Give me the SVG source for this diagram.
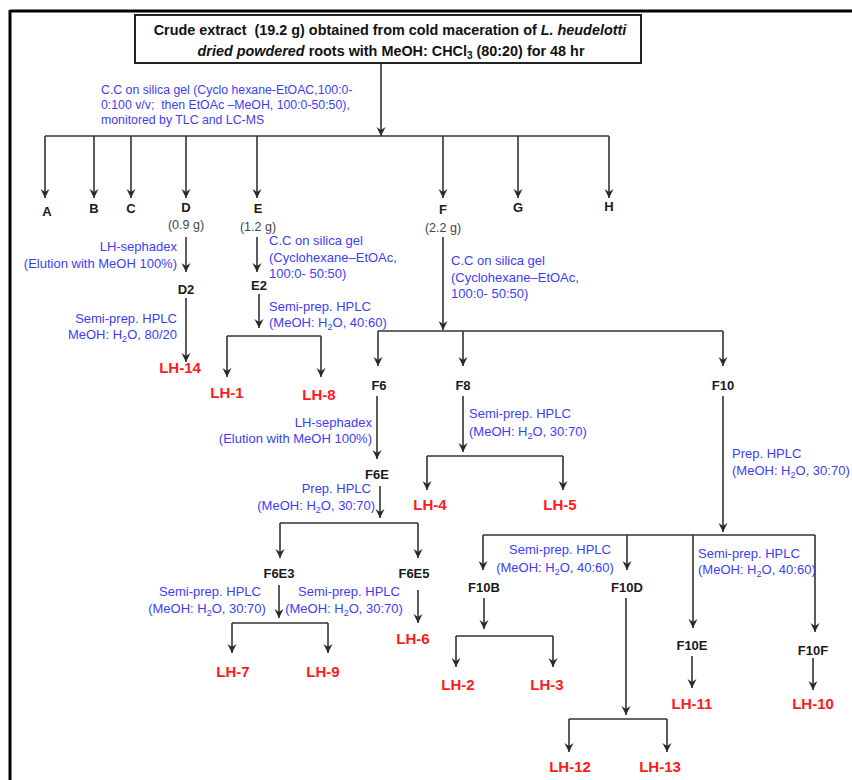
<svg xmlns="http://www.w3.org/2000/svg" width="852" height="780" viewBox="0 0 852 780">
<defs>
<marker id="ah" viewBox="-10 -6 12 12" markerWidth="12" markerHeight="12" refX="0" refY="0" orient="auto" markerUnits="userSpaceOnUse">
<path d="M0,0 L-9,-4.5 L-6,0 L-9,4.5 Z" fill="#2a2a2a"/>
</marker>
<style>
.c{fill:none;stroke:#333;stroke-width:1.6}
.a{marker-end:url(#ah)}
.bl{font-family:"Liberation Sans",Arial,sans-serif;font-size:13px;fill:#3d3df5}
.bt{font-family:"Liberation Sans",Arial,sans-serif;font-size:12.3px;fill:#3d3df5}
.k{font-family:"Liberation Sans",Arial,sans-serif;font-size:13px;font-weight:bold;fill:#1a1a1a;text-anchor:middle}
.g{font-family:"Liberation Sans",Arial,sans-serif;font-size:12.5px;fill:#444;text-anchor:middle}
.r{font-family:"Liberation Sans",Arial,sans-serif;font-size:15px;font-weight:bold;fill:#ff1a1a;text-anchor:middle}
.e{text-anchor:end}
.m{text-anchor:middle}
.t{font-family:"Liberation Sans",Arial,sans-serif;font-size:14.4px;font-weight:bold;fill:#111;text-anchor:middle}
</style>
</defs>
<rect width="852" height="780" fill="#fff"/>
<path d="M10,11 H852 M10,10 V780" stroke="#000" stroke-width="3" fill="none"/>

<g id="connectors">
<path class="c a" d="M381,63 V136"/>
<path class="c" d="M45,136 H609"/>
<path class="c a" d="M45,136 V198"/>
<path class="c a" d="M94,136 V198"/>
<path class="c a" d="M131,136 V198"/>
<path class="c a" d="M186,136 V198"/>
<path class="c a" d="M257,136 V198"/>
<path class="c a" d="M443,136 V198"/>
<path class="c a" d="M518,136 V198"/>
<path class="c a" d="M609,136 V198"/>
<path class="c a" d="M186,237 V272"/>
<path class="c a" d="M186,298 V362"/>
<path class="c a" d="M257,237 V272"/>
<path class="c a" d="M259,294 V328"/>
<path class="c" d="M227,336 H321"/>
<path class="c a" d="M227,336 V377"/>
<path class="c a" d="M321,336 V377"/>
<path class="c a" d="M443,237 V330"/>
<path class="c" d="M378,331 H723"/>
<path class="c a" d="M378,331 V366"/>
<path class="c a" d="M463,331 V366"/>
<path class="c a" d="M723,331 V366"/>
<path class="c a" d="M377,396 V459"/>
<path class="c a" d="M380,486 V518"/>
<path class="c" d="M280,523 H418"/>
<path class="c a" d="M280,523 V558"/>
<path class="c a" d="M418,523 V558"/>
<path class="c a" d="M279,585 V618"/>
<path class="c" d="M232,623 H328"/>
<path class="c a" d="M232,623 V653"/>
<path class="c a" d="M328,623 V653"/>
<path class="c a" d="M418,590 V623"/>
<path class="c a" d="M463,396 V452"/>
<path class="c" d="M427,456 H563"/>
<path class="c a" d="M427,456 V490"/>
<path class="c a" d="M563,456 V490"/>
<path class="c a" d="M723,396 V532"/>
<path class="c" d="M483,535 H815"/>
<path class="c a" d="M483,535 V570"/>
<path class="c a" d="M627,535 V570"/>
<path class="c a" d="M693,535 V628"/>
<path class="c a" d="M815,535 V632"/>
<path class="c a" d="M484,598 V629"/>
<path class="c" d="M456,636 H553"/>
<path class="c a" d="M456,636 V667"/>
<path class="c a" d="M553,636 V667"/>
<path class="c a" d="M626,598 V715"/>
<path class="c" d="M569,719 H667"/>
<path class="c a" d="M569,719 V752"/>
<path class="c a" d="M667,719 V752"/>
<path class="c a" d="M692,656 V688"/>
<path class="c a" d="M813,658 V690"/>
</g>

<g id="crude">
<rect x="135" y="15" width="506" height="48" fill="#fff" stroke="#222" stroke-width="2"/>
<text class="t" x="390" y="35">Crude extract &#160;(19.2 g) obtained from cold maceration of <tspan font-style="italic">L. heudelotti</tspan></text>
<text class="t" x="391" y="56"><tspan font-style="italic">dried powdered</tspan> roots with MeOH: CHCl<tspan font-size="10" dy="3">3</tspan><tspan dy="-3"> (80:20) for 48 hr</tspan></text>
</g>

<g id="labels-cc">
<text class="bt" x="101" y="94">C.C on silica gel (Cyclo hexane-EtOAC,100:0-</text>
<text class="bt" x="101" y="109">0:100 v/v; &#160;then EtOAc –MeOH, 100:0-50:50),</text>
<text class="bt" x="101" y="124">monitored by TLC and LC-MS</text>
</g>

<g id="A"><text class="k" x="47" y="216">A</text></g>
<g id="B"><text class="k" x="94" y="213">B</text></g>
<g id="C"><text class="k" x="131" y="213">C</text></g>
<g id="D"><text class="k" x="186" y="212">D</text><text class="g" x="186" y="229">(0.9 g)</text></g>
<g id="E"><text class="k" x="258" y="213">E</text><text class="g" x="258" y="231">(1.2 g)</text></g>
<g id="F"><text class="k" x="443" y="214">F</text><text class="g" x="443" y="232">(2.2 g)</text></g>
<g id="G"><text class="k" x="518" y="212">G</text></g>
<g id="H"><text class="k" x="609" y="211">H</text></g>

<g id="lab-D">
<text class="bl e" x="177" y="251">LH-sephadex</text>
<text class="bl e" x="177" y="268">(Elution with MeOH 100%)</text>
<text class="bl e" x="177" y="323">Semi-prep. HPLC</text>
<text class="bl e" x="177" y="339">MeOH: H<tspan font-size="9" dy="3">2</tspan><tspan dy="-3">O, 80/20</tspan></text>
</g>
<g id="D2"><text class="k" x="186" y="294">D2</text></g>
<g id="LH-14"><text class="r" x="180" y="373">LH-14</text></g>

<g id="lab-E">
<text class="bl" x="269" y="245">C.C on silica gel</text>
<text class="bl" x="269" y="262">(Cyclohexane–EtOAc,</text>
<text class="bl" x="269" y="278">100:0- 50:50)</text>
<text class="bl" x="269" y="311">Semi-prep. HPLC</text>
<text class="bl" x="269" y="327">(MeOH: H<tspan font-size="9" dy="3">2</tspan><tspan dy="-3">O, 40:60)</tspan></text>
</g>
<g id="E2"><text class="k" x="259" y="290">E2</text></g>
<g id="LH-1"><text class="r" x="227" y="398">LH-1</text></g>
<g id="LH-8"><text class="r" x="319" y="400">LH-8</text></g>

<g id="lab-F">
<text class="bl" x="451" y="265">C.C on silica gel</text>
<text class="bl" x="451" y="282">(Cyclohexane–EtOAc,</text>
<text class="bl" x="451" y="298">100:0- 50:50)</text>
</g>
<g id="F6"><text class="k" x="379" y="390">F6</text></g>
<g id="F8"><text class="k" x="463" y="390">F8</text></g>
<g id="F10"><text class="k" x="723" y="390">F10</text></g>

<g id="lab-F6">
<text class="bl e" x="372" y="427">LH-sephadex</text>
<text class="bl e" x="372" y="443">(Elution with MeOH 100%)</text>
<text class="bl e" x="371" y="493">Prep. HPLC</text>
<text class="bl e" x="375" y="510">(MeOH: H<tspan font-size="9" dy="3">2</tspan><tspan dy="-3">O, 30:70)</tspan></text>
</g>
<g id="F6E"><text class="k" x="377" y="479">F6E</text></g>
<g id="F6E3"><text class="k" x="279" y="578">F6E3</text></g>
<g id="F6E5"><text class="k" x="414" y="578">F6E5</text></g>
<g id="lab-F6E3">
<text class="bl m" x="210" y="596">Semi-prep. HPLC</text>
<text class="bl m" x="207" y="613">(MeOH: H<tspan font-size="9" dy="3">2</tspan><tspan dy="-3">O, 30:70)</tspan></text>
<text class="bl m" x="349" y="596">Semi-prep. HPLC</text>
<text class="bl m" x="344" y="613">(MeOH: H<tspan font-size="9" dy="3">2</tspan><tspan dy="-3">O, 30:70)</tspan></text>
</g>
<g id="LH-7"><text class="r" x="233" y="677">LH-7</text></g>
<g id="LH-9"><text class="r" x="323" y="677">LH-9</text></g>
<g id="LH-6"><text class="r" x="413" y="644">LH-6</text></g>

<g id="lab-F8">
<text class="bl" x="469" y="418">Semi-prep. HPLC</text>
<text class="bl" x="469" y="436">(MeOH: H<tspan font-size="9" dy="3">2</tspan><tspan dy="-3">O, 30:70)</tspan></text>
</g>
<g id="LH-4"><text class="r" x="430" y="510">LH-4</text></g>
<g id="LH-5"><text class="r" x="560" y="510">LH-5</text></g>

<g id="lab-F10">
<text class="bl" x="732" y="458">Prep. HPLC</text>
<text class="bl" x="732" y="475">(MeOH: H<tspan font-size="9" dy="3">2</tspan><tspan dy="-3">O, 30:70)</tspan></text>
<text class="bl m" x="560" y="554">Semi-prep. HPLC</text>
<text class="bl m" x="555" y="572">(MeOH: H<tspan font-size="9" dy="3">2</tspan><tspan dy="-3">O, 40:60)</tspan></text>
<text class="bl" x="698" y="558">Semi-prep. HPLC</text>
<text class="bl" x="698" y="574">(MeOH: H<tspan font-size="9" dy="3">2</tspan><tspan dy="-3">O, 40:60)</tspan></text>
</g>
<g id="F10B"><text class="k" x="484" y="592">F10B</text></g>
<g id="F10D"><text class="k" x="627" y="592">F10D</text></g>
<g id="F10E"><text class="k" x="692" y="650">F10E</text></g>
<g id="F10F"><text class="k" x="813" y="655">F10F</text></g>
<g id="LH-2"><text class="r" x="458" y="690">LH-2</text></g>
<g id="LH-3"><text class="r" x="547" y="690">LH-3</text></g>
<g id="LH-12"><text class="r" x="570" y="772">LH-12</text></g>
<g id="LH-13"><text class="r" x="660" y="772">LH-13</text></g>
<g id="LH-11"><text class="r" x="692" y="709">LH-11</text></g>
<g id="LH-10"><text class="r" x="813" y="709">LH-10</text></g>
</svg>
